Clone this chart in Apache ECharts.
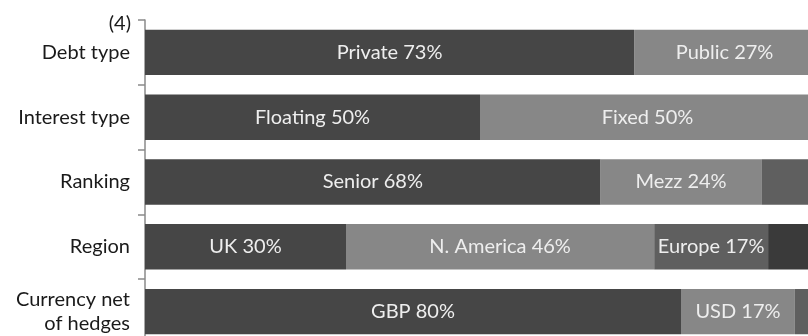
<!DOCTYPE html>
<html><head><meta charset="utf-8">
<script src="https://cdn.jsdelivr.net/npm/echarts@6/dist/echarts.min.js"></script>
<style>html,body{margin:0;padding:0;background:#fff}#c{width:808px;height:336px}</style>
</head><body><div id="c"></div>
<script>
const categories = ['Debt type', 'Interest type', 'Ranking', 'Region', 'Currency net\nof hedges'];
const seg1Names = ['Private', 'Floating', 'Senior', 'UK', 'GBP'];
const seg1Values = [73, 50, 68, 30, 80];
const seg2Names = ['Public', 'Fixed', 'Mezz', 'N. America', 'USD'];
const seg2Values = [27, 50, 24, 46, 17];
const seg3Names = ['', '', '', 'Europe', ''];
const seg3Values = [0, 0, 8, 17, 3];
const seg4Names = ['', '', '', '', ''];
const seg4Values = [0, 0, 0, 7, 0];
const axisNote = '(4)';

const colors = ['#464646', '#878787', '#5f5f5f', '#3a3a3a'];
const FONT = 'Lato, "Noto Sans", sans-serif';
const FS = 20;

function mkSeries(names, values, color) {
  return {
    type: 'bar', stack: 'a', barCategoryGap: '30%',
    itemStyle: { color: color },
    label: {
      show: true, position: 'inside', color: '#eeeeee', fontSize: FS, fontFamily: FONT,
      formatter: p => names[p.dataIndex] ? names[p.dataIndex] + ' ' + p.value + '%' : ''
    },
    data: values
  };
}

const chart = echarts.init(document.getElementById('c'));
chart.setOption({
  animation: false,
  grid: { left: 145, width: 670, top: 20, height: 324, containLabel: false, outerBoundsMode: 'none' },
  xAxis: { type: 'value', min: 0, max: 100, show: false },
  yAxis: {
    type: 'category', inverse: true, data: categories,
    axisLine: { show: true, lineStyle: { color: '#8a8a8a', width: 1.5 } },
    axisTick: { show: true, length: 7, lineStyle: { color: '#8a8a8a', width: 1.5 } },
    axisLabel: { color: '#1a1a1a', fontSize: FS, fontFamily: FONT, margin: 15, lineHeight: 24, align: 'right' }
  },
  graphic: [{
    type: 'text', right: 808 - 131, top: 14,
    style: { text: axisNote, fill: '#1a1a1a', font: FS + 'px ' + FONT, textAlign: 'right' }
  }],
  series: [
    mkSeries(seg1Names, seg1Values, colors[0]),
    mkSeries(seg2Names, seg2Values, colors[1]),
    mkSeries(seg3Names, seg3Values, colors[2]),
    mkSeries(seg4Names, seg4Values, colors[3])
  ]
});
</script></body></html>
